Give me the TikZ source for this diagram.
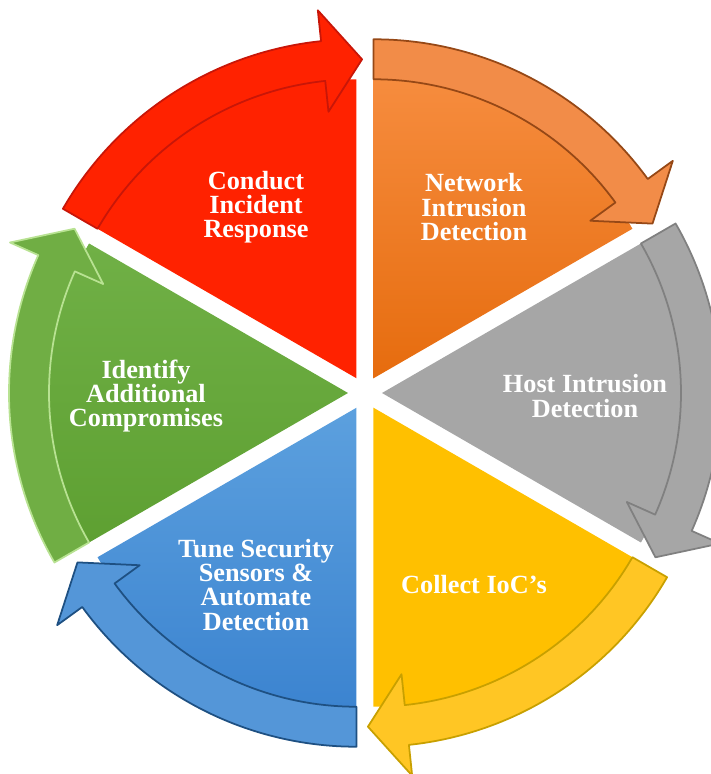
\documentclass[tikz,border=0pt]{standalone}
\usepackage{fontspec}
\setmainfont{Liberation Serif}
\definecolor{redbody}{RGB}{255,34,0}
\definecolor{redline}{RGB}{200,22,8}
\definecolor{orangetop}{RGB}{246,140,62}
\definecolor{orangebot}{RGB}{230,108,14}
\definecolor{orangearrow}{RGB}{242,140,72}
\definecolor{orangeline}{RGB}{150,72,22}
\definecolor{graybody}{RGB}{166,166,166}
\definecolor{grayline}{RGB}{128,128,128}
\definecolor{yellowbody}{RGB}{255,192,0}
\definecolor{yellowarrow}{RGB}{255,198,36}
\definecolor{yellowline}{RGB}{200,160,0}
\definecolor{bluetop}{RGB}{92,160,222}
\definecolor{bluebot}{RGB}{60,132,208}
\definecolor{bluearrow}{RGB}{84,150,216}
\definecolor{blueline}{RGB}{30,80,130}
\definecolor{greentop}{RGB}{112,176,70}
\definecolor{greenbot}{RGB}{94,160,50}
\definecolor{greenarrow}{RGB}{112,174,68}
\definecolor{greenline}{RGB}{184,226,146}
\begin{document}
\begin{tikzpicture}[x=0.03cm,y=0.03cm,line join=round,line cap=round,
		redfill/.style={fill=redbody},
		orangefill/.style={top color=orangetop,bottom color=orangebot},
		grayfill/.style={fill=graybody},
		yellowfill/.style={fill=yellowbody},
		bluefill/.style={top color=bluetop,bottom color=bluebot},
		greenfill/.style={top color=greentop,bottom color=greenbot},
		lbl/.style={text=white,font=\bfseries\fontsize{22.4}{20.8}\selectfont,align=center,yshift=-2.5pt}]
	\def\ri{299} \def\ro{339} \def\rm{319} \def\rb{268} \def\rt{370} \def\gap{17}
	\useasboundingbox (-365,-381) rectangle (346,393);
	\foreach \b/\body/\arr/\edge in {120/redfill/redbody/redline,60/orangefill/orangearrow/orangeline,0/grayfill/graybody/grayline,-60/yellowfill/yellowarrow/yellowline,-120/bluefill/bluearrow/blueline,180/greenfill/greenarrow/greenline}{
		\begin{scope}[shift={(\b:\gap)}]
			\path[\body] (0,0) -- ({\b+30}:\ri) arc[start angle=\b+30,end angle=\b-30,radius=\ri] -- cycle;
			\draw[fill=\arr,draw=\edge,line width=1.5pt] ({\b+30}:\ro) arc[start angle=\b+30,end angle=\b-24,radius=\ro]
				-- ({\b-24}:\rt) -- ({\b-31}:\rm) -- ({\b-24}:\rb) -- ({\b-24}:\ri)
				arc[start angle=\b-24,end angle=\b+30,radius=\ri] -- cycle;
		\end{scope}
	}
	\node[lbl] (respond) at (120:218) {Conduct\\Incident\\Response};
	\node[lbl] (netids) at (60:218) {Network\\Intrusion\\Detection};
	\node[lbl] (hostids) at (0:220) {Host Intrusion\\Detection};
	\node[lbl] (iocs) at (-60:218) {Collect IoC’s};
	\node[lbl] (tune) at (-120:218) {Tune Security\\Sensors \&\\Automate\\Detection};
	\node[lbl] (compromise) at (180:219) {Identify\\Additional\\Compromises};
\end{tikzpicture}
\end{document}
